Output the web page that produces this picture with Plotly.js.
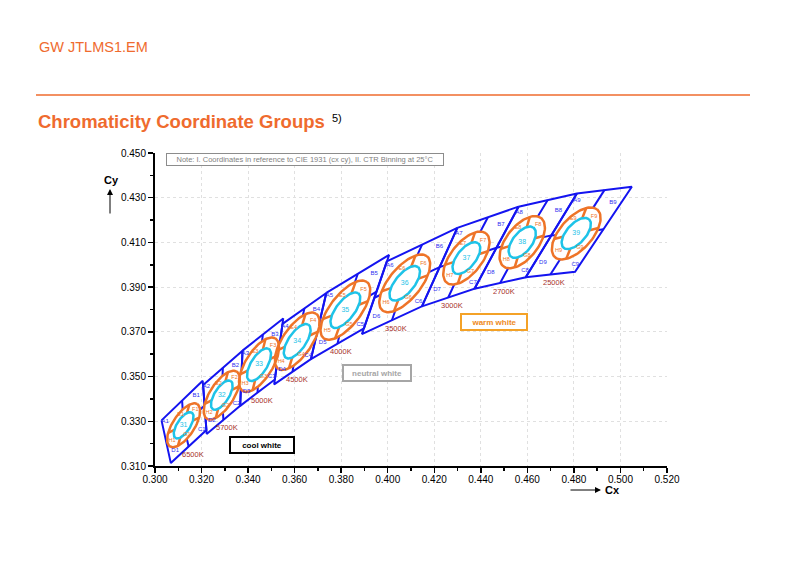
<!DOCTYPE html>
<html><head><meta charset="utf-8">
<script src="https://cdn.plot.ly/plotly-3.0.1.min.js"></script>
<style>body{margin:0;background:#fff}#chart{width:792px;height:586px}</style>
</head><body><div id="chart"></div>
<script>
// ---- data ----
const cctLabels = ['6500K','5700K','5000K','4500K','4000K','3500K','3000K','2700K','2500K'];
const binIds = ['1','2','3','4','5','6','7','8','9'];
const ellipseNames = ['31','32','33','34','35','36','37','38','39'];
// quadrangle corners (CIE 1931 x,y)
const tlX = [0.3028,0.3207,0.3376,0.3548,0.3736,0.3996,0.4299,0.4562,0.4813];
const tlY = [0.3304,0.3462,0.3616,0.3736,0.3874,0.4015,0.4165,0.4260,0.4319];
const trX = [0.3205,0.3376,0.3551,0.3736,0.4006,0.4299,0.4562,0.4813,0.5049];
const trY = [0.3481,0.3616,0.3760,0.3874,0.4044,0.4165,0.4260,0.4319,0.4349];
const brX = [0.3221,0.3366,0.3515,0.3670,0.3898,0.4147,0.4373,0.4593,0.4805];
const brY = [0.3261,0.3369,0.3487,0.3578,0.3716,0.3814,0.3893,0.3944,0.3969];
const blX = [0.3068,0.3222,0.3366,0.3512,0.3670,0.3889,0.4147,0.4373,0.4593];
const blY = [0.3113,0.3243,0.3369,0.3465,0.3578,0.3690,0.3814,0.3893,0.3944];
// bin centres
const cX = [0.3123,0.3287,0.3447,0.3611,0.3818,0.4073,0.4338,0.4578,0.4810];
const cY = [0.3282,0.3417,0.3553,0.3658,0.3797,0.3917,0.4030,0.4101,0.4140];
// 1-step MacAdam ellipse parameters
const ellA = [0.00223,0.00247,0.00274,0.00295,0.00313,0.00309,0.00278,0.00270,0.00280];
const ellB = [0.00095,0.00105,0.00118,0.00126,0.00134,0.00138,0.00136,0.00140,0.00140];
const ellTheta = [58.57,59.1,59.62,57.0,54.0,52.17,53.22,54.0,50.0];
const outerSteps = 5, innerSteps = 3;
const subLetters = ['A','B','C','D'];
const ringLetters = ['E','F','G','H'];

// ---- helpers ----
function ell(i, steps, tDeg){
  const a=ellA[i]*steps, b=ellB[i]*steps, th=ellTheta[i]*Math.PI/180, t=tDeg*Math.PI/180;
  return [cX[i] + a*Math.cos(th)*Math.cos(t) - b*Math.sin(th)*Math.sin(t),
          cY[i] + a*Math.sin(th)*Math.cos(t) + b*Math.cos(th)*Math.sin(t)];
}
const n = cctLabels.length;
const BLUE='#1414F0', ORANGE='#EE7428', CYAN='#1EC3E8';

// blue grid
const bx=[], by=[];
for(let i=0;i<n;i++){
  bx.push(tlX[i],trX[i],brX[i],blX[i],tlX[i],null);
  by.push(tlY[i],trY[i],brY[i],blY[i],tlY[i],null);
  bx.push((tlX[i]+trX[i])/2,cX[i],(blX[i]+brX[i])/2,null);
  by.push((tlY[i]+trY[i])/2,cY[i],(blY[i]+brY[i])/2,null);
  bx.push((tlX[i]+blX[i])/2,cX[i],(trX[i]+brX[i])/2,null);
  by.push((tlY[i]+blY[i])/2,cY[i],(trY[i]+brY[i])/2,null);
}
// ellipses
const ox=[],oy=[],ix=[],iy=[],dx=[],dy=[];
for(let i=0;i<n;i++){
  for(let t=0;t<=360;t+=4){ const p=ell(i,outerSteps,t); ox.push(p[0]); oy.push(p[1]);
    const q=ell(i,innerSteps,t); ix.push(q[0]); iy.push(q[1]); }
  ox.push(null); oy.push(null); ix.push(null); iy.push(null);
  [35,-55,-145,125].forEach(t=>{ const p=ell(i,innerSteps,t), q=ell(i,outerSteps,t);
    dx.push(p[0],q[0],null); dy.push(p[1],q[1],null); });
}
// labels
const lbx=[],lby=[],lbt=[], lox=[],loy=[],lot=[];
const cornerFrac=[0.17,0.34,0.2,0.34];
const ringAngle=[68,-10,-110,170], ringFrac=[0.8,0.78,0.78,0.78];
for(let i=0;i<n;i++){
  const cs=[[tlX[i],tlY[i]],[trX[i],trY[i]],[brX[i],brY[i]],[blX[i],blY[i]]];
  cs.forEach((c,k)=>{ const f=cornerFrac[k];
    lbx.push(c[0]+f*(cX[i]-c[0])); lby.push(c[1]+f*(cY[i]-c[1])); lbt.push(subLetters[k]+binIds[i]); });
  ringAngle.forEach((t,k)=>{ const p=ell(i,outerSteps*ringFrac[k],t); lox.push(p[0]); loy.push(p[1]); lot.push(ringLetters[k]+binIds[i]); });
}
const FONT='Liberation Sans, Arial, sans-serif';
const traces=[
  {x:bx,y:by,mode:'lines',line:{color:BLUE,width:2},hoverinfo:'skip'},
  {x:ox,y:oy,mode:'lines',fill:'toself',fillcolor:'#ffffff',line:{color:ORANGE,width:2.5},hoverinfo:'skip'},
  {x:dx,y:dy,mode:'lines',line:{color:ORANGE,width:2.5},hoverinfo:'skip'},
  {x:ix,y:iy,mode:'lines',line:{color:CYAN,width:2.5},hoverinfo:'skip'},
  {x:lbx,y:lby,text:lbt,mode:'text',textfont:{family:FONT,size:6,color:'#3030F0'},hoverinfo:'skip'},
  {x:lox,y:loy,text:lot,mode:'text',textfont:{family:FONT,size:5.5,color:ORANGE},hoverinfo:'skip'},
  {x:cX,y:cY,text:ellipseNames,mode:'text',textfont:{family:FONT,size:7,color:CYAN},hoverinfo:'skip'}
];
const ann=[];
for(let i=0;i<n;i++){
  ann.push({x:(blX[i]+brX[i])/2,y:(blY[i]+brY[i])/2,xref:'x',yref:'y',text:cctLabels[i],showarrow:false,
    xanchor:'center',yanchor:'middle',xshift:4,yshift:-8,font:{family:FONT,size:7.5,color:'#A8322D'}});
}
const PX=x=>(x-155)/512, PY=y=>(466-y)/313;
const C={xanchor:'center',yanchor:'middle',xref:'paper',yref:'paper'};
ann.push(
  Object.assign({},C,{x:PX(304.5),y:PY(159),text:'Note: I. Coordinates in reference to CIE 1931 (cx cy), II. CTR Binning at 25°C',
   showarrow:false,width:274,height:9,bordercolor:'#8c8c8c',borderwidth:1,borderpad:1,bgcolor:'#fff',
   font:{family:'Liberation Sans Narrow, Liberation Sans, Arial',size:7.5,color:'#7f7f7f'}}),
  Object.assign({},C,{x:PX(262),y:PY(445),text:'<b>cool white</b>',showarrow:false,width:60,height:12,
   bordercolor:'#000',borderwidth:2,borderpad:1,bgcolor:'#fff',font:{family:FONT,size:8,color:'#000'}}),
  Object.assign({},C,{x:PX(377),y:PY(373),text:'<b>neutral white</b>',showarrow:false,width:64,height:12,
   bordercolor:'#a6a6a6',borderwidth:2,borderpad:1,bgcolor:'#fff',font:{family:FONT,size:8,color:'#a6a6a6'}}),
  Object.assign({},C,{x:PX(494),y:PY(322),text:'<b>warm white</b>',showarrow:false,width:62,height:12,
   bordercolor:'#F4A227',borderwidth:2,borderpad:1,bgcolor:'#fff',font:{family:FONT,size:8,color:'#EE8A22'}}),
  Object.assign({},C,{x:PX(37),y:PY(47),xanchor:'left',text:'GW JTLMS1.EM',showarrow:false,
   font:{family:FONT,size:14.5,color:'#EF6B2E'}}),
  Object.assign({},C,{x:PX(36),y:PY(122),xanchor:'left',text:'<b>Chromaticity Coordinate Groups</b>',showarrow:false,
   font:{family:FONT,size:18.5,color:'#EF6B2E'}}),
  Object.assign({},C,{x:PX(330),y:PY(118),xanchor:'left',text:'5)',showarrow:false,
   font:{family:FONT,size:11,color:'#000'}}),
  Object.assign({},C,{x:PX(111),y:PY(180),text:'<b>Cy</b>',showarrow:false,font:{family:FONT,size:11,color:'#000'}}),
  Object.assign({},C,{x:PX(110),y:PY(189),ax:0,ay:26,text:'',showarrow:true,arrowhead:2,arrowwidth:1,arrowsize:1.2,arrowcolor:'#000'}),
  Object.assign({},C,{x:PX(612),y:PY(490),text:'<b>Cx</b>',showarrow:false,font:{family:FONT,size:11,color:'#000'}}),
  Object.assign({},C,{x:PX(601),y:PY(490),ax:-32,ay:0,text:'',showarrow:true,arrowhead:2,arrowwidth:1,arrowsize:1.2,arrowcolor:'#000'})
);
const axisCommon={showline:true,linecolor:'#000',linewidth:2,ticks:'outside',ticklen:5,tickwidth:1.5,tickcolor:'#000',
  tickformat:'.3f',tickfont:{family:FONT,size:10,color:'#000'},showgrid:true,gridcolor:'#e0e0e0',griddash:'dot',gridwidth:1,
  zeroline:false,fixedrange:true};
const layout={
  width:792,height:586,margin:{l:155,r:125,t:153,b:120},paper_bgcolor:'#fff',plot_bgcolor:'#fff',showlegend:false,
  xaxis:Object.assign({},axisCommon,{range:[0.300,0.520],tick0:0.30,dtick:0.02,ticklabelstandoff:-2,
    minor:{ticks:'outside',ticklen:3,tickwidth:1.5,tickcolor:'#000',dtick:0.01,tick0:0.31,showgrid:false}}),
  yaxis:Object.assign({},axisCommon,{range:[0.310,0.450],tick0:0.31,dtick:0.02,
    minor:{ticks:'outside',ticklen:3,tickwidth:1.5,tickcolor:'#000',dtick:0.01,tick0:0.32,showgrid:false}}),
  annotations:ann,
  shapes:[{type:'line',xref:'paper',yref:'paper',x0:PX(36),x1:PX(750),y0:PY(95),y1:PY(95),line:{color:'#EF6B2E',width:1.5}}]
};
Plotly.newPlot('chart',traces,layout,{displayModeBar:false,staticPlot:true});
</script></body></html>
